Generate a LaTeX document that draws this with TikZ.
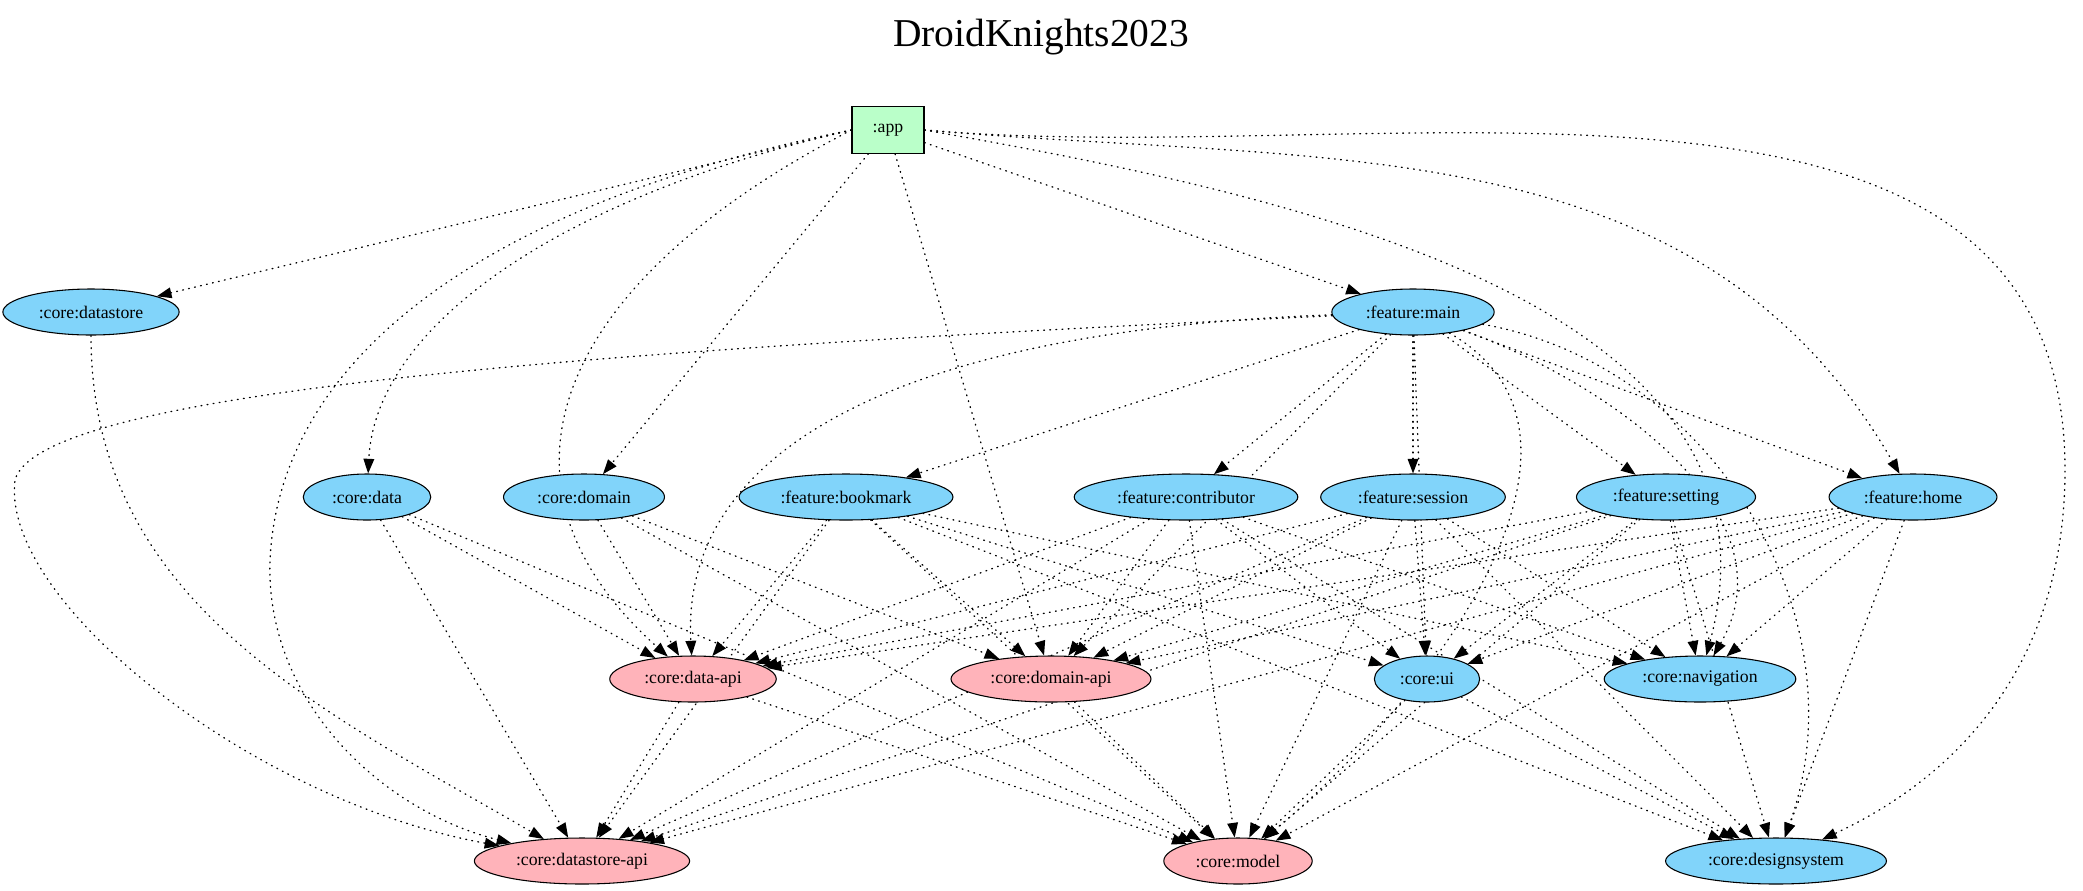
\documentclass[tikz,border=0pt]{standalone}
\usepackage{fontspec}
\setmainfont{Liberation Serif}
\usetikzlibrary{arrows.meta,shapes.geometric}
\definecolor{libblue}{HTML}{81D4FA}
\definecolor{jvmpink}{HTML}{FFB3BA}
\definecolor{appgreen}{HTML}{BAFFC9}
\pgfdeclarelayer{edges}
\pgfsetlayers{edges,main}

\begin{document}
\begin{tikzpicture}[x=0.75pt,y=-0.75pt,
		mod/.style={ellipse,draw,line width=0.8pt,fill=libblue,inner xsep=7.6pt,inner ysep=2pt,minimum height=34.5pt,font=\fontsize{13.3}{16}\selectfont},
		api/.style={mod,fill=jvmpink},
		dep/.style={-{Triangle[length=11pt,width=8pt]},line width=1pt,line cap=round,dash pattern=on 0.6pt off 4pt}]
		\useasboundingbox (0,0) rectangle (2083,890);
		\node (title) at (1041,37) {\fontsize{29.6}{34}\selectfont DroidKnights2023};
		%
		\node[draw,line width=0.8pt,fill=appgreen,minimum width=54pt,minimum height=35pt,font=\fontsize{13.3}{16}\selectfont] (app) at (888,130) {:app};
		\node[mod] (datastore) at (91,312) {:core:datastore};
		\node[mod] (main) at (1413,312) {:feature:main};
		\node[mod] (data) at (367,497) {:core:data};
		\node[mod] (domain) at (584,497) {:core:domain};
		\node[mod] (bookmark) at (846,497) {:feature:bookmark};
		\node[mod] (contributor) at (1186,497) {:feature:contributor};
		\node[mod] (session) at (1413,497) {:feature:session};
		\node[mod] (setting) at (1666,497) {:feature:setting};
		\node[mod] (home) at (1913,497) {:feature:home};
		\node[api] (dataapi) at (693,679) {:core:data-api};
		\node[api] (domainapi) at (1051,679) {:core:domain-api};
		\node[mod] (ui) at (1427,679) {:core:ui};
		\node[mod] (navigation) at (1700,679) {:core:navigation};
		\node[api] (datastoreapi) at (582,861) {:core:datastore-api};
		\node[api] (model) at (1238,861) {:core:model};
		\node[mod] (designsystem) at (1776,861) {:core:designsystem};
		%
		\begin{pgfonlayer}{edges}
		% app
		\draw [dep] (app.west) to (datastore);
		\draw [dep] (app.west) .. controls (550,200) and (375,330) .. (data);
		\draw [dep] (app) to (domain);
		\draw [dep] (app) to (main);
		\draw [dep] (app.east) to[out=-5,in=120] (home);
		\draw [dep] (app) to (domainapi);
		\draw [dep] (app.west) .. controls (560,280) and (470,480) .. (dataapi);
		\draw [dep] (app.west) .. controls (500,200) and (280,350) .. (270,560) .. controls (265,700) and (380,810) .. (datastoreapi);
		\draw [dep] (app.east) to[out=-10,in=75] (navigation);
		\draw [dep] (app.east) to[out=-5,in=90] (2065,470) to[out=-90,in=25] (designsystem);
		% feature:main
		\foreach \f in {bookmark,contributor,session,setting,home}
			\draw [dep] (main) to (\f);
		\draw [dep] (main) .. controls (900,330) and (680,450) .. (dataapi);
		\draw [dep] (main) to (domainapi);
		\draw [dep] (main) .. controls (600,350) and (40,390) .. (15,480) .. controls (0,600) and (250,800) .. (datastoreapi);
		\draw [dep] (main) to (ui);
		\draw [dep] (main) to[out=-20,in=60] (navigation);
		\draw [dep] (main) to[out=-30,in=40] (model);
		\draw [dep] (main) to[out=-10,in=70] (designsystem);
		% features
		\foreach \f in {bookmark,contributor,session,setting,home}
			\foreach \t in {dataapi,domainapi,datastoreapi,ui,navigation,model,designsystem}
				\draw [dep] (\f) to (\t);
		% core
		\draw [dep] (datastore) to[out=-90,in=150] (datastoreapi);
		\draw [dep] (data) to (dataapi);
		\draw [dep] (data) to (datastoreapi);
		\draw [dep] (data) to (model);
		\draw [dep] (domain) to (dataapi);
		\draw [dep] (domain) to (domainapi);
		\draw [dep] (domain) to (model);
		\draw [dep] (dataapi) to (datastoreapi);
		\draw [dep] (dataapi) to (model);
		\draw [dep] (domainapi) to (model);
		\draw [dep] (ui) to (model);
		\draw [dep] (ui) to (designsystem);
		\end{pgfonlayer}
	\end{tikzpicture}
\end{document}
